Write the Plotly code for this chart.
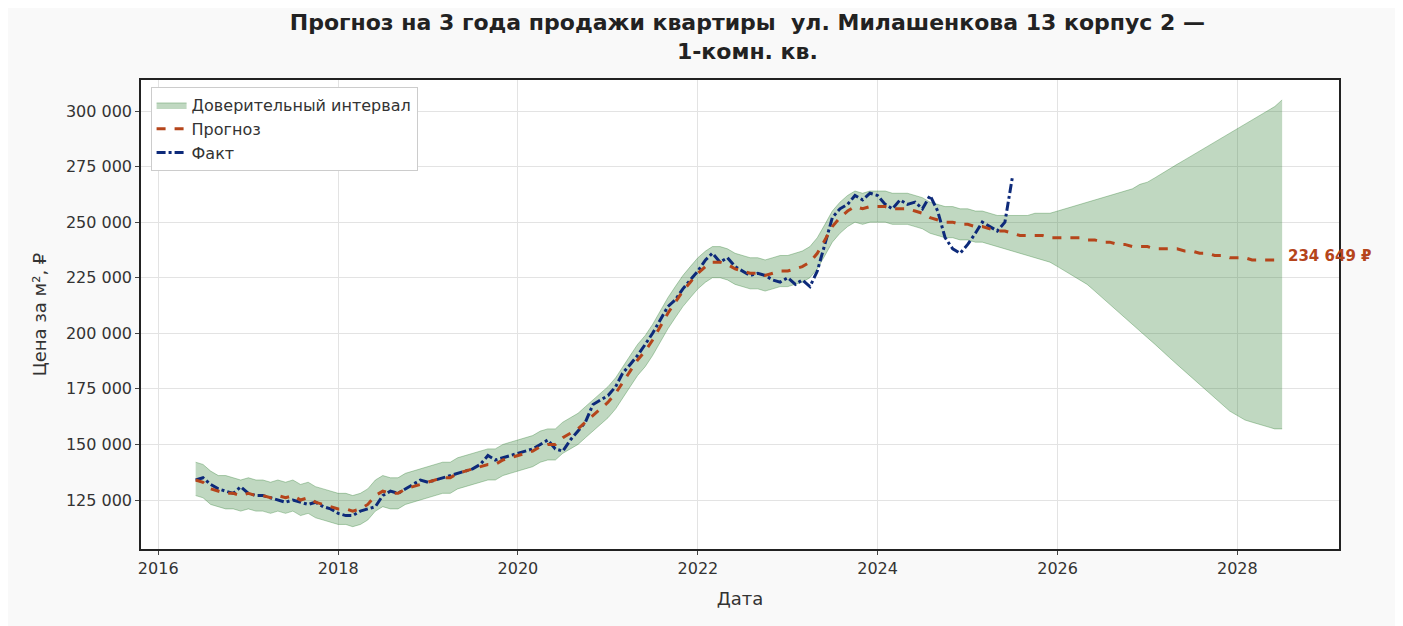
import pandas as pd
import plotly.graph_objects as go

# values in thousands of rubles per m², monthly
fact_k = [
    134, 135, 132, 130, 129, 128, 131,
    128, 127, 127, 126, 125, 124, 125, 124, 123, 124, 122, 121,
    119, 118, 118, 120, 121, 122, 127, 129, 128, 130, 132, 134,
    133, 134, 135, 136, 137, 138, 139, 141, 145, 143, 144, 145,
    146, 147, 148, 150, 152, 148, 147, 152, 156, 160, 168, 170,
    172, 176, 182, 186, 190, 195, 200, 206, 212, 215, 220, 224,
    228, 233, 236, 232, 234, 230, 228, 226, 227, 226, 224, 223,
    225, 222, 224, 221, 228, 240, 252, 256, 258, 262, 260, 263,
    262, 258, 256, 260, 258, 259, 256, 262, 255, 243, 238, 236,
    240, 245, 250, 248, 246, 250, 270,
]
forecast_k = [
    134, 133, 130, 129, 128, 128, 127,
    128, 127, 127, 126, 127, 126, 127, 125, 126, 124, 123, 122,
    121, 121, 120, 121, 123, 127, 129, 128, 128, 130, 131, 132,
    133, 134, 135, 135, 137, 138, 139, 140, 141, 141, 143, 144,
    145, 146, 147, 149, 150, 150, 153, 155, 157, 160, 163, 166,
    169, 173, 178, 183, 188, 192, 197, 203, 209, 214, 219, 223,
    227, 230, 232, 232, 231, 229, 228, 227, 227, 226, 227, 228,
    228, 229, 230, 232, 236, 242, 248, 252, 255, 257, 256, 257,
    257, 257, 256, 256, 256, 255, 254, 252, 251, 250, 250, 249,
    249, 248, 248, 247, 246, 246, 245, 244, 244, 244, 244, 243,
    243, 243, 243, 243, 242, 242, 241, 241, 240, 240, 239, 239,
    239, 238, 238, 238, 238, 237, 237, 236, 236, 235, 235, 234,
    234, 234, 233, 233, 233, 233, 234.649,
]
upper_k = [
    142, 141, 138, 136, 136, 135, 134,
    135, 134, 134, 133, 134, 133, 134, 132, 133, 131, 130, 129,
    128, 128, 127, 128, 130, 134, 136, 135, 135, 137, 138, 139,
    140, 141, 142, 142, 144, 145, 146, 147, 148, 148, 150, 151,
    152, 153, 154, 156, 157, 157, 160, 162, 164, 167, 170, 173,
    176, 180, 185, 190, 195, 199, 204, 210, 216, 221, 226, 230,
    234, 237, 239, 239, 238, 236, 235, 234, 234, 233, 234, 235,
    235, 236, 237, 239, 243, 249, 255, 259, 262, 264, 263, 264,
    264, 264, 263, 263, 263, 262, 261, 259, 258, 257, 257, 256,
    256, 255, 255, 254, 253, 253, 253, 253, 253, 254, 254, 254,
    255, 256, 257, 258, 259, 260, 261, 262, 263, 264, 265, 267,
    268, 270, 272, 274, 276, 278, 280, 282, 284, 286, 288, 290,
    292, 294, 296, 298, 300, 302, 305,
]
lower_k = [
    127, 126, 123, 122, 121, 121, 120,
    121, 120, 120, 119, 120, 119, 120, 118, 119, 117, 116, 115,
    114, 114, 113, 114, 116, 120, 122, 121, 121, 123, 124, 125,
    126, 127, 128, 128, 130, 131, 132, 133, 134, 134, 136, 137,
    138, 139, 140, 142, 143, 143, 146, 148, 150, 153, 156, 159,
    162, 166, 171, 176, 181, 185, 190, 196, 202, 207, 212, 216,
    220, 223, 225, 225, 224, 222, 221, 220, 220, 219, 220, 221,
    221, 222, 223, 225, 229, 235, 241, 245, 248, 250, 249, 250,
    250, 250, 249, 249, 249, 248, 247, 245, 244, 243, 243, 242,
    242, 241, 241, 240, 239, 238, 237, 236, 235, 234, 233, 232,
    230, 228, 226, 224, 222, 219, 216, 213, 210, 207, 204, 201,
    198, 195, 192, 189, 186, 183, 180, 177, 174, 171, 168, 165,
    163, 161, 160, 159, 158, 157, 157,
]
y_ticks = [125000, 150000, 175000, 200000, 225000, 250000, 275000, 300000]
y_labels = ["125 000", "150 000", "175 000", "200 000", "225 000", "250 000", "275 000", "300 000"]
last_label = "234 649 ₽"

fact_dates = pd.date_range("2016-06-01", periods=len(fact_k), freq="MS")
fc_dates = pd.date_range("2016-06-01", periods=len(forecast_k), freq="MS")

fact = [v * 1000 for v in fact_k]
forecast = [v * 1000 for v in forecast_k]
upper = [v * 1000 for v in upper_k]
lower = [v * 1000 for v in lower_k]

fig = go.Figure()
fig.add_trace(go.Scatter(x=fc_dates, y=lower, mode="lines",
                         line=dict(color="rgba(46,125,50,0.35)", width=1),
                         showlegend=False, hoverinfo="skip"))
fig.add_trace(go.Scatter(x=fc_dates, y=upper, mode="lines", fill="tonexty",
                         fillcolor="rgba(46,125,50,0.3)",
                         line=dict(color="rgba(46,125,50,0.35)", width=1),
                         name="Доверительный интервал", legendrank=3))
fig.add_trace(go.Scatter(x=fact_dates, y=fact, mode="lines", name="Факт", legendrank=1,
                         line=dict(color="#0d2a7a", width=3, dash="dashdot")))
fig.add_trace(go.Scatter(x=fc_dates, y=forecast, mode="lines", name="Прогноз", legendrank=2,
                         line=dict(color="#b5451b", width=3, dash="dash")))

fig.add_annotation(x=fc_dates[-1], y=forecast[-1], text="<b>" + last_label + "</b>",
                   showarrow=False, xanchor="left", xshift=4,
                   font=dict(color="#b5451b", size=15))

fig.update_layout(
    width=1403, height=626,
    paper_bgcolor="#f9f9f9", plot_bgcolor="white",
    font=dict(family="DejaVu Sans", size=16, color="#333"),
    title=dict(text="<b>Прогноз на 3 года продажи квартиры  ул. Милашенкова 13 корпус 2 —<br>1-комн. кв.</b>",
               x=0.527, xanchor="center", y=0.965, font=dict(size=22, color="#222")),
    margin=dict(l=133, r=72, t=72, b=85),
    legend=dict(x=0.008, y=0.985, xanchor="left", yanchor="top",
                bgcolor="white", bordercolor="#ccc", borderwidth=1,
                font=dict(size=16)),
    xaxis=dict(title=dict(text="Дата", font=dict(size=18)),
               range=["2015-10-23", "2029-02-17"],
               dtick="M24", tick0="2016-01-01", tickformat="%Y",
               showgrid=True, gridcolor="#e3e3e3", showline=True, mirror=True,
               linecolor="#222", linewidth=1.5, ticks="outside", ticklen=4),
    yaxis=dict(title=dict(text="Цена за м², ₽", font=dict(size=18)),
               range=[102960, 313950], tickvals=y_ticks, ticktext=y_labels,
               showgrid=True, gridcolor="#e3e3e3", showline=True, mirror=True,
               linecolor="#222", linewidth=1.5, ticks="outside", ticklen=4),
)

fig.write_html("out.html")
